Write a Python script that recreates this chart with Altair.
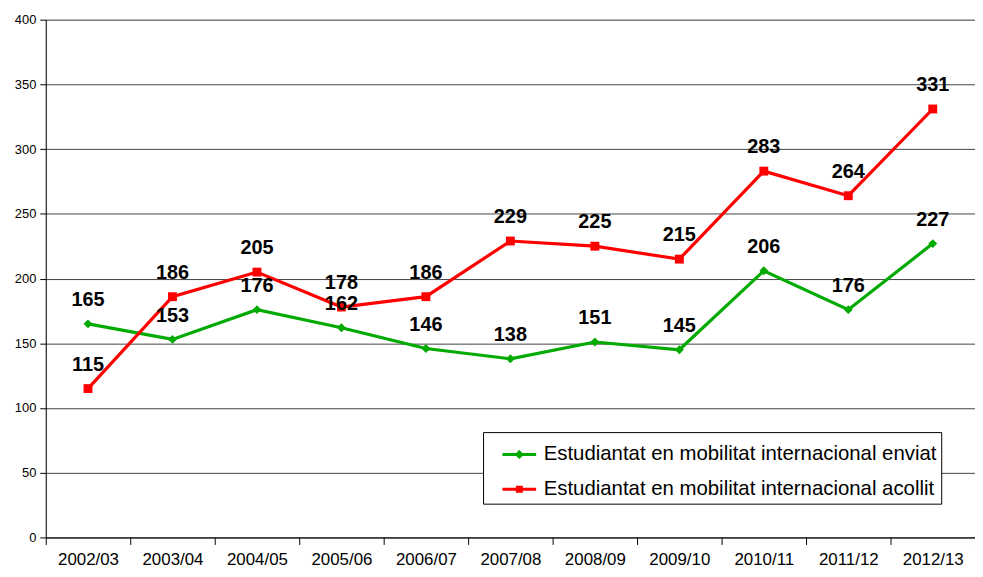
import altair as alt
import pandas as pd

years = ["2002/03", "2003/04", "2004/05", "2005/06", "2006/07", "2007/08",
         "2008/09", "2009/10", "2010/11", "2011/12", "2012/13"]
enviat = [165, 153, 176, 162, 146, 138, 151, 145, 206, 176, 227]
acollit = [115, 186, 205, 178, 186, 229, 225, 215, 283, 264, 331]
s_env = "Estudiantat en mobilitat internacional enviat"
s_aco = "Estudiantat en mobilitat internacional acollit"

df_env = pd.DataFrame({"any": years, "valor": enviat})
df_aco = pd.DataFrame({"any": years, "valor": acollit})
df_all = pd.concat([df_env, df_aco])
df_leg = pd.DataFrame({"serie": [s_env, s_aco], "any": [years[0], years[0]],
                       "valor": [None, None]})

GREEN = "#00AA00"
RED = "#FF0000"
FONT = "Liberation Sans"

diamond_path = ("M-1,0H1M0,-0.15L0.15,0L0,0.15L-0.15,0Z"
                "M0,-0.07L0.07,0L0,0.07L-0.07,0Z")
square_path = ("M-1,0H1M-0.12,-0.12H0.12V0.12H-0.12Z"
               "M-0.05,-0.05H0.05V0.05H-0.05Z")

x_enc = alt.X("any:N", sort=years, title=None,
              scale=alt.Scale(domain=years, paddingInner=0, paddingOuter=0),
              axis=alt.Axis(labelAngle=0, labelFontSize=17, labelFont=FONT,
                            labelColor="black", labelPadding=7,
                            tickBand="extent", tickSize=7, tickColor="black",
                            domainColor="black", grid=False))
y_enc = alt.Y("valor:Q", title=None,
              scale=alt.Scale(domain=[0, 400], nice=False),
              axis=alt.Axis(values=list(range(0, 401, 50)), labelFontSize=13,
                            labelFont=FONT, labelColor="black", tickSize=6,
                            tickColor="black", domainColor="black",
                            gridColor="#444444", gridWidth=1, labelPadding=4))


def series(df, color, shape):
    line = alt.Chart(df).mark_line(strokeWidth=3.2, color=color).encode(x=x_enc, y=y_enc)
    pts = alt.Chart(df).mark_point(shape=shape, filled=True, size=80, opacity=1,
                                   color=color).encode(x=x_enc, y=y_enc)
    return line, pts


l_env, p_env = series(df_env, GREEN, "diamond")
l_aco, p_aco = series(df_aco, RED, "square")

labels = alt.Chart(df_all).mark_text(
    fontSize=20, fontWeight="bold", font=FONT, color="black", dy=-24, baseline="middle"
).encode(x=x_enc, y=y_enc, text="valor:Q")

legend_layer = alt.Chart(df_leg).mark_point(
    filled=False, opacity=1, strokeWidth=3, size=1150
).encode(
    x=x_enc, y=y_enc,
    color=alt.Color("serie:N", scale=alt.Scale(domain=[s_env, s_aco], range=[GREEN, RED]),
                    title=None,
                    legend=alt.Legend(
                        orient="none", legendX=440, legendY=415,
                        direction="vertical",
                        fillColor="white", strokeColor="black",
                        padding=4, labelFontSize=20.5, labelFont=FONT,
                        labelColor="black", symbolSize=1150, symbolOffset=14,
                        symbolStrokeWidth=3, rowPadding=6, labelOffset=6,
                        labelExpr="datum.label + '   '",
                        labelLimit=700, symbolOpacity=1)),
    shape=alt.Shape("serie:N", scale=alt.Scale(domain=[s_env, s_aco],
                                               range=[diamond_path, square_path]),
                    title=None),
)

chart = alt.layer(l_env, l_aco, p_env, p_aco, labels, legend_layer).properties(
    width=935, height=521,
    autosize=alt.AutoSizeParams(type="none"),
    padding={"left": 38, "top": 10, "right": 0, "bottom": 30},
).configure_view(stroke=None).configure(background="white")

chart.save("out.html", embed_options={"renderer": "svg", "actions": False})
